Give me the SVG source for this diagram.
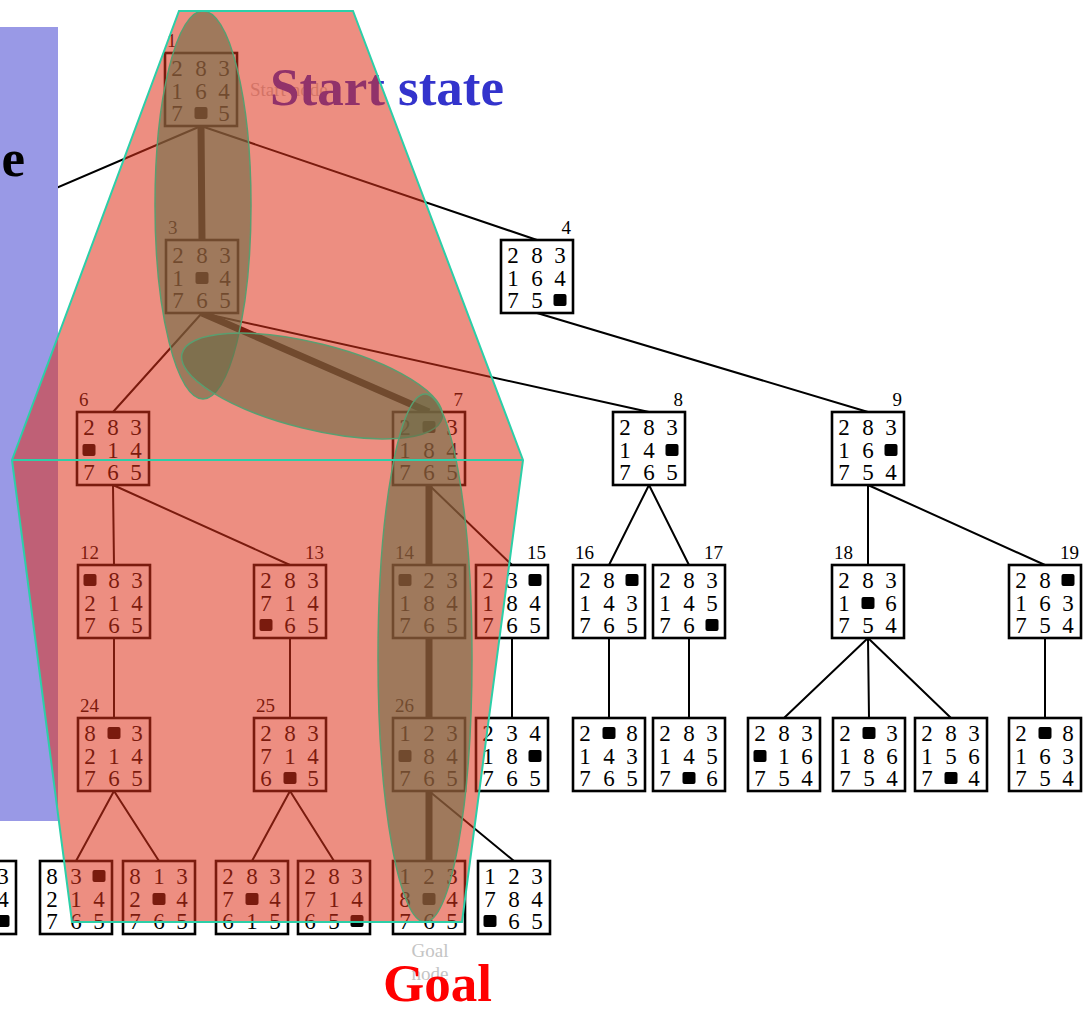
<svg xmlns="http://www.w3.org/2000/svg" width="1087" height="1009" viewBox="0 0 1087 1009">
<style>
.box{fill:#fff;stroke:#000;stroke-width:2.6}
.d{font-family:"Liberation Serif","DejaVu Serif",serif;font-size:23px;text-anchor:middle;fill:#000}
.lb{font-family:"Liberation Serif",serif;font-size:19px;fill:#000}
.lr{font-family:"Liberation Serif",serif;font-size:19px;fill:#000;text-anchor:end}
.bk{fill:#000}
.e{stroke:#000;stroke-width:2;fill:none}
.th{stroke:#000;stroke-width:7;fill:none}
.faint{font-family:"Liberation Serif",serif;font-size:19px;fill:#c4c4c4}
.big{font-family:"Liberation Serif",serif;font-weight:bold;font-size:53px}
.ov{fill:rgb(222,50,25);fill-opacity:0.55;stroke:none}
.ol{fill:none;stroke:#2ccfa8;stroke-width:2}
.el{fill:#6b6b45;fill-opacity:0.6;stroke:#5a9e70;stroke-width:1.5}
</style>
<rect width="1087" height="1009" fill="#fff"/>
<g id="connectors">
<path class="e" d="M201,126 L0,212 M201,126 L537,240 M202,313 L113,412 M202,313 L649,412 M537,313 L868,412 M113,485 L114,565 M113,485 L290,565 M429,485 L512,565 M649,485 L609,565 M649,485 L689,565 M868,485 L868,565 M868,485 L1045,565 M114,638 L114,718 M290,638 L290,718 M512,638 L512,718 M609,638 L609,718 M689,638 L689,718 M868,638 L784,718 M868,638 L869,718 M868,638 L951,718 M1045,638 L1045,718 M114,791 L76,861 M114,791 L159,861 M290,791 L252,861 M290,791 L334,861 M429,791 L514,861"/>
<path class="th" d="M201,126 L202,240 M202,313 L429,412 M429,485 L429,565 M429,638 L429,718 M429,791 L429,861"/>
</g>
<g id="n1" transform="translate(165,53)"><rect class="box" width="72" height="73"/><text class="d" x="12 36 59" y="23">283</text><text class="d" x="12 36 59" y="46">164</text><text class="d" x="12 59" y="68">75</text><rect class="bk" x="29.5" y="54" width="13" height="12" rx="2"/><text class="lb" x="2" y="-6">1</text></g>
<g id="n3" transform="translate(166,240)"><rect class="box" width="72" height="73"/><text class="d" x="12 36 59" y="23">283</text><text class="d" x="12 59" y="46">14</text><text class="d" x="12 36 59" y="68">765</text><rect class="bk" x="29.5" y="32" width="13" height="12" rx="2"/><text class="lb" x="2" y="-6">3</text></g>
<g id="n4" transform="translate(501,240)"><rect class="box" width="72" height="73"/><text class="d" x="12 36 59" y="23">283</text><text class="d" x="12 36 59" y="46">164</text><text class="d" x="12 36" y="68">75</text><rect class="bk" x="52.5" y="54" width="13" height="12" rx="2"/><text class="lr" x="70" y="-6">4</text></g>
<g id="n6" transform="translate(77,412)"><rect class="box" width="72" height="73"/><text class="d" x="12 36 59" y="23">283</text><text class="d" x="36 59" y="46">14</text><text class="d" x="12 36 59" y="68">765</text><rect class="bk" x="5.5" y="32" width="13" height="12" rx="2"/><text class="lb" x="2" y="-6">6</text></g>
<g id="n7" transform="translate(393,412)"><rect class="box" width="72" height="73"/><text class="d" x="12 59" y="23">23</text><text class="d" x="12 36 59" y="46">184</text><text class="d" x="12 36 59" y="68">765</text><rect class="bk" x="29.5" y="9" width="13" height="12" rx="2"/><text class="lr" x="70" y="-6">7</text></g>
<g id="n8" transform="translate(613,412)"><rect class="box" width="72" height="73"/><text class="d" x="12 36 59" y="23">283</text><text class="d" x="12 36" y="46">14</text><text class="d" x="12 36 59" y="68">765</text><rect class="bk" x="52.5" y="32" width="13" height="12" rx="2"/><text class="lr" x="70" y="-6">8</text></g>
<g id="n9" transform="translate(832,412)"><rect class="box" width="72" height="73"/><text class="d" x="12 36 59" y="23">283</text><text class="d" x="12 36" y="46">16</text><text class="d" x="12 36 59" y="68">754</text><rect class="bk" x="52.5" y="32" width="13" height="12" rx="2"/><text class="lr" x="70" y="-6">9</text></g>
<g id="n12" transform="translate(78,565)"><rect class="box" width="72" height="73"/><text class="d" x="36 59" y="23">83</text><text class="d" x="12 36 59" y="46">214</text><text class="d" x="12 36 59" y="68">765</text><rect class="bk" x="5.5" y="9" width="13" height="12" rx="2"/><text class="lb" x="2" y="-6">12</text></g>
<g id="n13" transform="translate(254,565)"><rect class="box" width="72" height="73"/><text class="d" x="12 36 59" y="23">283</text><text class="d" x="12 36 59" y="46">714</text><text class="d" x="36 59" y="68">65</text><rect class="bk" x="5.5" y="54" width="13" height="12" rx="2"/><text class="lr" x="70" y="-6">13</text></g>
<g id="n14" transform="translate(393,565)"><rect class="box" width="72" height="73"/><text class="d" x="36 59" y="23">23</text><text class="d" x="12 36 59" y="46">184</text><text class="d" x="12 36 59" y="68">765</text><rect class="bk" x="5.5" y="9" width="13" height="12" rx="2"/><text class="lb" x="2" y="-6">14</text></g>
<g id="n15" transform="translate(476,565)"><rect class="box" width="72" height="73"/><text class="d" x="12 36" y="23">23</text><text class="d" x="12 36 59" y="46">184</text><text class="d" x="12 36 59" y="68">765</text><rect class="bk" x="52.5" y="9" width="13" height="12" rx="2"/><text class="lr" x="70" y="-6">15</text></g>
<g id="n16" transform="translate(573,565)"><rect class="box" width="72" height="73"/><text class="d" x="12 36" y="23">28</text><text class="d" x="12 36 59" y="46">143</text><text class="d" x="12 36 59" y="68">765</text><rect class="bk" x="52.5" y="9" width="13" height="12" rx="2"/><text class="lb" x="2" y="-6">16</text></g>
<g id="n17" transform="translate(653,565)"><rect class="box" width="72" height="73"/><text class="d" x="12 36 59" y="23">283</text><text class="d" x="12 36 59" y="46">145</text><text class="d" x="12 36" y="68">76</text><rect class="bk" x="52.5" y="54" width="13" height="12" rx="2"/><text class="lr" x="70" y="-6">17</text></g>
<g id="n18" transform="translate(832,565)"><rect class="box" width="72" height="73"/><text class="d" x="12 36 59" y="23">283</text><text class="d" x="12 59" y="46">16</text><text class="d" x="12 36 59" y="68">754</text><rect class="bk" x="29.5" y="32" width="13" height="12" rx="2"/><text class="lb" x="2" y="-6">18</text></g>
<g id="n19" transform="translate(1009,565)"><rect class="box" width="72" height="73"/><text class="d" x="12 36" y="23">28</text><text class="d" x="12 36 59" y="46">163</text><text class="d" x="12 36 59" y="68">754</text><rect class="bk" x="52.5" y="9" width="13" height="12" rx="2"/><text class="lr" x="70" y="-6">19</text></g>
<g id="n24" transform="translate(78,718)"><rect class="box" width="72" height="73"/><text class="d" x="12 59" y="23">83</text><text class="d" x="12 36 59" y="46">214</text><text class="d" x="12 36 59" y="68">765</text><rect class="bk" x="29.5" y="9" width="13" height="12" rx="2"/><text class="lb" x="2" y="-6">24</text></g>
<g id="n25" transform="translate(254,718)"><rect class="box" width="72" height="73"/><text class="d" x="12 36 59" y="23">283</text><text class="d" x="12 36 59" y="46">714</text><text class="d" x="12 59" y="68">65</text><rect class="bk" x="29.5" y="54" width="13" height="12" rx="2"/><text class="lb" x="2" y="-6">25</text></g>
<g id="n26" transform="translate(393,718)"><rect class="box" width="72" height="73"/><text class="d" x="12 36 59" y="23">123</text><text class="d" x="36 59" y="46">84</text><text class="d" x="12 36 59" y="68">765</text><rect class="bk" x="5.5" y="32" width="13" height="12" rx="2"/><text class="lb" x="2" y="-6">26</text></g>
<g id="n27" transform="translate(476,718)"><rect class="box" width="72" height="73"/><text class="d" x="12 36 59" y="23">234</text><text class="d" x="12 36" y="46">18</text><text class="d" x="12 36 59" y="68">765</text><rect class="bk" x="52.5" y="32" width="13" height="12" rx="2"/></g>
<g id="n28" transform="translate(573,718)"><rect class="box" width="72" height="73"/><text class="d" x="12 59" y="23">28</text><text class="d" x="12 36 59" y="46">143</text><text class="d" x="12 36 59" y="68">765</text><rect class="bk" x="29.5" y="9" width="13" height="12" rx="2"/></g>
<g id="n29" transform="translate(653,718)"><rect class="box" width="72" height="73"/><text class="d" x="12 36 59" y="23">283</text><text class="d" x="12 36 59" y="46">145</text><text class="d" x="12 59" y="68">76</text><rect class="bk" x="29.5" y="54" width="13" height="12" rx="2"/></g>
<g id="n30" transform="translate(748,718)"><rect class="box" width="72" height="73"/><text class="d" x="12 36 59" y="23">283</text><text class="d" x="36 59" y="46">16</text><text class="d" x="12 36 59" y="68">754</text><rect class="bk" x="5.5" y="32" width="13" height="12" rx="2"/></g>
<g id="n31" transform="translate(833,718)"><rect class="box" width="72" height="73"/><text class="d" x="12 59" y="23">23</text><text class="d" x="12 36 59" y="46">186</text><text class="d" x="12 36 59" y="68">754</text><rect class="bk" x="29.5" y="9" width="13" height="12" rx="2"/></g>
<g id="n32" transform="translate(915,718)"><rect class="box" width="72" height="73"/><text class="d" x="12 36 59" y="23">283</text><text class="d" x="12 36 59" y="46">156</text><text class="d" x="12 59" y="68">74</text><rect class="bk" x="29.5" y="54" width="13" height="12" rx="2"/></g>
<g id="n33" transform="translate(1009,718)"><rect class="box" width="72" height="73"/><text class="d" x="12 59" y="23">28</text><text class="d" x="12 36 59" y="46">163</text><text class="d" x="12 36 59" y="68">754</text><rect class="bk" x="29.5" y="9" width="13" height="12" rx="2"/></g>
<g id="n34" transform="translate(-56,861)"><rect class="box" width="72" height="73"/><text class="d" x="59" y="23">3</text><text class="d" x="59" y="46">4</text><rect class="bk" x="52.5" y="54" width="13" height="12" rx="2"/></g>
<g id="n35" transform="translate(40,861)"><rect class="box" width="72" height="73"/><text class="d" x="12 36" y="23">83</text><text class="d" x="12 36 59" y="46">214</text><text class="d" x="12 36 59" y="68">765</text><rect class="bk" x="52.5" y="9" width="13" height="12" rx="2"/></g>
<g id="n36" transform="translate(123,861)"><rect class="box" width="72" height="73"/><text class="d" x="12 36 59" y="23">813</text><text class="d" x="12 59" y="46">24</text><text class="d" x="12 36 59" y="68">765</text><rect class="bk" x="29.5" y="32" width="13" height="12" rx="2"/></g>
<g id="n37" transform="translate(216,861)"><rect class="box" width="72" height="73"/><text class="d" x="12 36 59" y="23">283</text><text class="d" x="12 59" y="46">74</text><text class="d" x="12 36 59" y="68">615</text><rect class="bk" x="29.5" y="32" width="13" height="12" rx="2"/></g>
<g id="n38" transform="translate(298,861)"><rect class="box" width="72" height="73"/><text class="d" x="12 36 59" y="23">283</text><text class="d" x="12 36 59" y="46">714</text><text class="d" x="12 36" y="68">65</text><rect class="bk" x="52.5" y="54" width="13" height="12" rx="2"/></g>
<g id="n39" transform="translate(393,861)"><rect class="box" width="72" height="73"/><text class="d" x="12 36 59" y="23">123</text><text class="d" x="12 59" y="46">84</text><text class="d" x="12 36 59" y="68">765</text><rect class="bk" x="29.5" y="32" width="13" height="12" rx="2"/></g>
<g id="n40" transform="translate(478,861)"><rect class="box" width="72" height="73"/><text class="d" x="12 36 59" y="23">123</text><text class="d" x="12 36 59" y="46">784</text><text class="d" x="36 59" y="68">65</text><rect class="bk" x="5.5" y="54" width="13" height="12" rx="2"/></g>
<text class="faint" x="250" y="96">Start node</text>
<text class="faint" x="430" y="957" text-anchor="middle">Goal</text>
<text class="faint" x="430" y="980" text-anchor="middle">node</text>
<text class="big" x="270" y="105" fill="#3333cc">Start state</text>
<rect x="0" y="27" width="58" height="794" fill="#9999e6"/>
<text class="big" x="25" y="176" text-anchor="end" font-size="64" fill="#000">e</text>
<g id="overlay">
<polygon class="ov" points="179,11 353,11 523,460 12,460"/>
<polygon class="ov" points="12,460 523,460 462,922 72,922"/>
<ellipse class="el" cx="203" cy="205" rx="48" ry="194"/>
<ellipse class="el" cx="312" cy="386" rx="134" ry="43" transform="rotate(14 312 386)"/>
<ellipse class="el" cx="425" cy="658" rx="47" ry="264"/>
<polygon class="ol" points="179,11 353,11 523,460 462,922 72,922 12,460"/>
<line class="ol" x1="12" y1="460" x2="523" y2="460"/>
</g>
<text class="big" x="383" y="1001" fill="#ff0000">Goal</text>
</svg>
